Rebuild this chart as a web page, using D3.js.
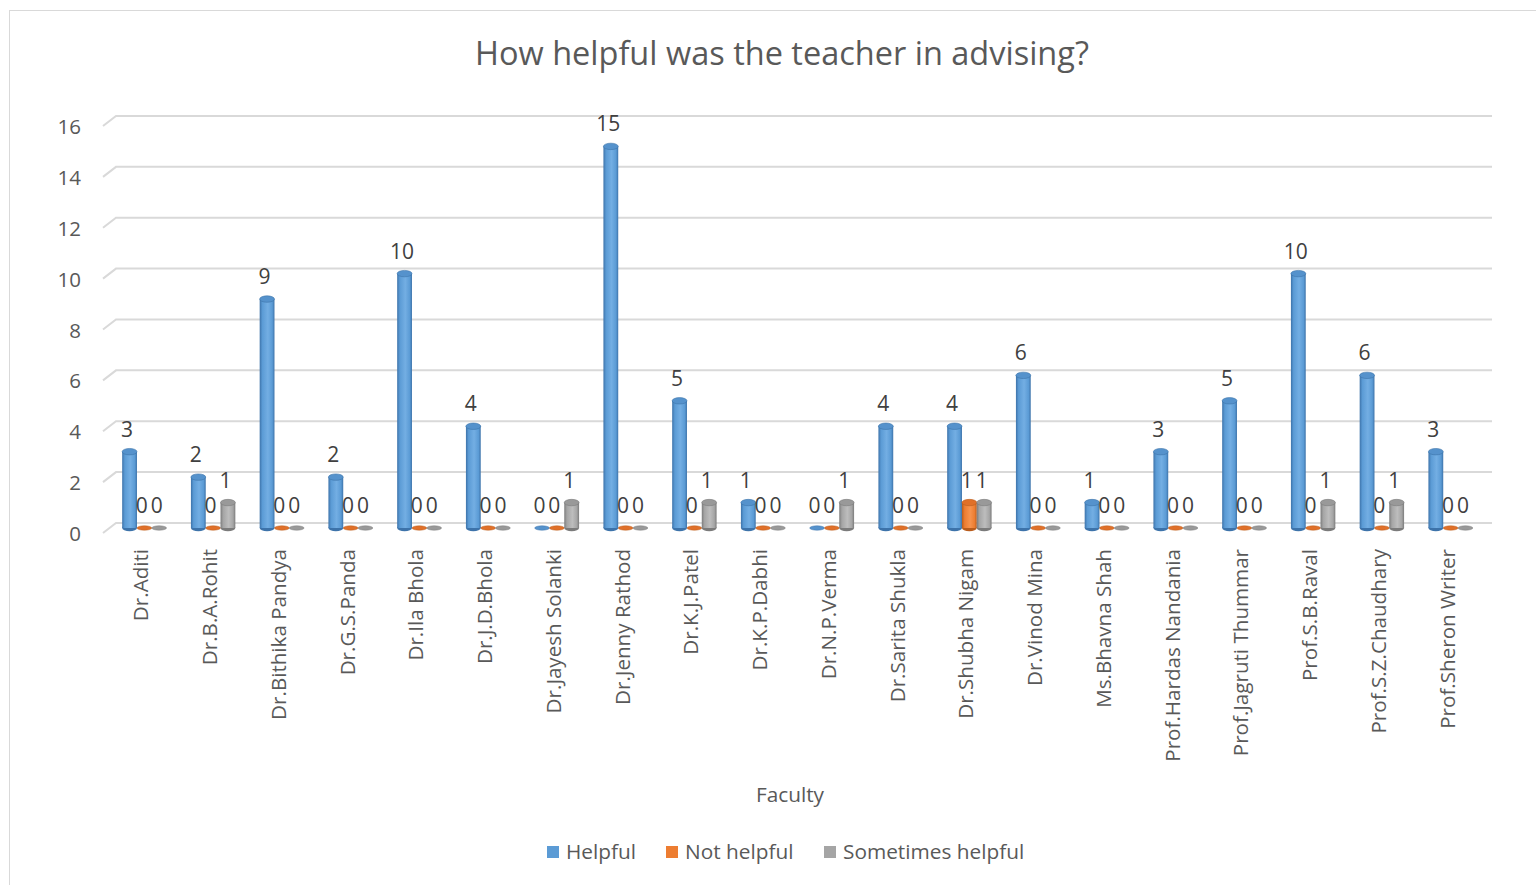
<!DOCTYPE html>
<html>
<head>
<meta charset="utf-8">
<script src="https://cdn.jsdelivr.net/npm/d3@7"></script>
<style>
  html, body { margin: 0; padding: 0; background: #fff; }
  svg { display: block; font-family: "Open Sans", "Noto Sans", sans-serif; }
</style>
</head>
<body>
<svg id="chart" width="1536" height="885"></svg>
<script>
// chart values
var categories = ["Dr.Aditi", "Dr.B.A.Rohit", "Dr.Bithika Pandya", "Dr.G.S.Panda", "Dr.Ila Bhola",
  "Dr.J.D.Bhola", "Dr.Jayesh Solanki", "Dr.Jenny Rathod", "Dr.K.J.Patel", "Dr.K.P.Dabhi",
  "Dr.N.P.Verma", "Dr.Sarita Shukla", "Dr.Shubha Nigam", "Dr.Vinod Mina", "Ms.Bhavna Shah",
  "Prof.Hardas Nandania", "Prof.Jagruti Thummar", "Prof.S.B.Raval", "Prof.S.Z.Chaudhary", "Prof.Sheron Writer"];
var helpful =          [3, 2, 9, 2, 10, 4, 0, 15, 5, 1, 0, 4, 4, 6, 1, 3, 5, 10, 6, 3];
var notHelpful =       [0, 0, 0, 0, 0, 0, 0, 0, 0, 0, 0, 0, 1, 0, 0, 0, 0, 0, 0, 0];
var sometimesHelpful = [0, 1, 0, 0, 0, 0, 1, 0, 1, 0, 1, 0, 1, 0, 0, 0, 0, 1, 1, 0];
var seriesNames = ["Helpful", "Not helpful", "Sometimes helpful"];
var yTicks = [0, 2, 4, 6, 8, 10, 12, 14, 16];

var colors = {
  "Helpful": {base: "#5b9bd5", dark: "#3d73aa", light: "#73aee3", top: "#5592cc"},
  "Not helpful": {base: "#ed7d31", dark: "#b95c1c", light: "#f6934f", top: "#e07029"},
  "Sometimes helpful": {base: "#a5a5a5", dark: "#7b7b7b", light: "#bdbdbd", top: "#999999"}
};

var svg = d3.select("#chart");
var textColor = "#595959";

// outer frame
svg.append("rect")
  .attr("x", 9.5).attr("y", 10.5)
  .attr("width", 1540).attr("height", 890)
  .attr("fill", "#fff").attr("stroke", "#d9d9d9").attr("stroke-width", 1);

var series = [
  {name: "Helpful", values: helpful},
  {name: "Not helpful", values: notHelpful},
  {name: "Sometimes helpful", values: sometimesHelpful}
];

var x = d3.scaleBand().domain(categories).range([110, 1485]).padding(0);
var xs = d3.scaleBand().domain(seriesNames).range([0, 44.4]).padding(0);
var y = d3.scaleLinear().domain([0, 16]).range([528, 528 - 16 * 25.44]);
var groupOffset = (x.bandwidth() - 44.4) / 2;
var depthX = 13, depthY = 10;

// gradients for cylinders
var defs = svg.append("defs");
seriesNames.forEach(function(name, i){
  var c = colors[name];
  var g = defs.append("linearGradient")
    .attr("id", "grad" + i)
    .attr("x1", "0%").attr("x2", "100%").attr("y1", "0%").attr("y2", "0%");
  g.append("stop").attr("offset", "0%").attr("stop-color", c.dark);
  g.append("stop").attr("offset", "18%").attr("stop-color", c.base);
  g.append("stop").attr("offset", "55%").attr("stop-color", c.light);
  g.append("stop").attr("offset", "85%").attr("stop-color", c.base);
  g.append("stop").attr("offset", "100%").attr("stop-color", c.dark);
});

// gridlines with 3D floor slant
var grid = svg.append("g").attr("class", "grid");
yTicks.forEach(function(t){
  var yb = y(t) - 5;
  grid.append("path")
    .attr("d", "M" + 103 + "," + (yb + depthY) + "L" + (103 + depthX) + "," + yb + "L" + 1492 + "," + yb)
    .attr("fill", "none").attr("stroke", "#d9d9d9").attr("stroke-width", 2);
});

// y axis labels
var yAxis = d3.axisLeft(y).tickValues(yTicks).tickSize(0).tickPadding(0);
var yg = svg.append("g").attr("transform", "translate(81,6)").call(yAxis);
yg.select(".domain").remove();
yg.selectAll("text")
  .attr("fill", textColor).attr("font-size", "20.5px")
  .attr("font-family", "'Open Sans', sans-serif");

// bars
var bw = xs.bandwidth();
var rx = bw / 2, ry = 3.2;
series.forEach(function(s, si){
  var c = colors[s.name];
  var g = svg.append("g").attr("class", "series-" + si);
  s.values.forEach(function(v, ci){
    var x0 = x(categories[ci]) + groupOffset + xs(s.name);
    var cx = x0 + rx;
    var yTop = y(v), yBase = y(0);
    if (v > 0){
      g.append("ellipse").attr("cx", cx).attr("cy", yBase).attr("rx", rx).attr("ry", ry)
        .attr("fill", c.dark);
      g.append("rect").attr("x", x0).attr("y", yTop).attr("width", bw).attr("height", yBase - yTop)
        .attr("fill", "url(#grad" + si + ")");
      g.append("ellipse").attr("cx", cx).attr("cy", yTop).attr("rx", rx).attr("ry", ry)
        .attr("fill", c.top).attr("stroke", c.dark).attr("stroke-width", 0.6);
    } else {
      g.append("ellipse").attr("cx", cx).attr("cy", yBase).attr("rx", rx).attr("ry", 2.2)
        .attr("fill", c.top).attr("stroke", c.dark).attr("stroke-width", 0.5);
    }
  });
});

// data labels
series.forEach(function(s, si){
  svg.append("g").selectAll("text")
    .data(s.values)
    .enter().append("text")
    .attr("x", function(d, ci){ return x(categories[ci]) + groupOffset + xs(s.name) + rx - 2.5; })
    .attr("y", function(d){ return y(d) - 15; })
    .attr("text-anchor", "middle")
    .attr("fill", "#404040")
    .attr("font-size", "21px")
    .text(function(d){ return d; });
});

// category labels
var xg = svg.append("g");
xg.selectAll("text")
  .data(categories)
  .enter().append("text")
  .attr("transform", function(d){
    return "translate(" + (x(d) + x.bandwidth() / 2 - 4) + ",549)rotate(-90)";
  })
  .attr("text-anchor", "end")
  .attr("dominant-baseline", "central")
  .attr("fill", textColor)
  .attr("font-size", "20.6px")
  .text(function(d){ return d; });

// axis title
svg.append("text")
  .attr("x", 790).attr("y", 802)
  .attr("text-anchor", "middle")
  .attr("fill", textColor).attr("font-size", "20.8px")
  .text("Faculty");

// chart title
svg.append("text")
  .attr("x", 782).attr("y", 65)
  .attr("text-anchor", "middle")
  .attr("fill", textColor).attr("font-size", "32.5px")
  .text("How helpful was the teacher in advising?");

// legend
var legendX = [547, 666, 824];
var legend = svg.append("g");
seriesNames.forEach(function(name, i){
  legend.append("rect")
    .attr("x", legendX[i]).attr("y", 846).attr("width", 12).attr("height", 12)
    .attr("fill", colors[name].base);
  legend.append("text")
    .attr("x", legendX[i] + 19).attr("y", 859)
    .attr("fill", textColor).attr("font-size", "20.8px")
    .text(name);
});
</script>
</body>
</html>
